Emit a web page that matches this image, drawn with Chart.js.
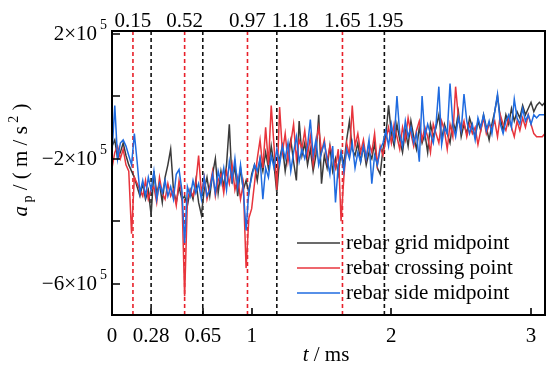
<!DOCTYPE html>
<html lang="en">
<head>
<meta charset="UTF-8" />
<title>Rebar acceleration</title>
<script src="https://cdn.jsdelivr.net/npm/chart.js"></script>
<style>
  html, body { margin: 0; padding: 0; background: #fff; }
  #wrap { width: 547px; height: 367px; }
</style>
</head>
<body>
<div id="wrap"><canvas id="accChart"></canvas></div>
<script>
// time step of the records in ms, values in 10^5 m/s^2
const timeStep = 0.02;

const gridMidpoint = [
  -1.6, -1.4, -2.0, -1.8, -1.5, -1.9, -2.2, -2.4, -2.6, -2.9,
  -3.2, -2.8, -3.3, -3.0, -3.8, -2.4, -3.1, -2.8, -3.4, -2.6,
  -2.2, -1.7, -3.0, -3.4, -2.9, -3.3, -3.2, -3.5, -3.0, -3.3,
  -2.7, -3.4, -3.8, -3.0, -2.6, -3.2, -2.5, -2.0, -3.1, -2.4,
  -2.9, -2.2, -0.9, -2.8, -2.2, -3.2, -2.3, -3.0, -2.7, -3.1,
  -2.5, -2.2, -2.7, -2.0, -2.4, -1.8, -2.3, -1.6, -2.2, -3.1,
  -2.0, -1.6, -2.4, -1.8, -1.4, -2.1, -2.7, -0.8, -1.9, -1.5,
  -2.2, -1.7, -2.4, -1.9, -0.6, -2.8, -1.9, -2.3, -1.6, -2.4,
  -2.0, -2.5, -1.8, -2.2, -1.4, -0.8, -1.7, -1.9, -1.5, -2.1,
  -1.6, -2.2, -1.8, -2.0, -1.5, -2.3, -2.5, -1.7, -1.3, -0.3,
  -1.2, -1.6, -0.9, -1.4, -1.8, -1.1, -1.6, -0.8, -1.3, -1.7,
  -1.0, -1.5, -1.2, -1.8, -0.9, -1.3, -1.0, -0.6, -1.4, -0.9,
  -1.2, -1.5, -0.8, -1.1, -0.5, -1.3, -0.9, -1.2, -0.7, -1.0,
  -1.3, -0.8, -1.1, -0.6, -1.0, -1.4, -0.9, -0.5, 0.0, -0.7,
  -1.1, -0.6, -0.9, -0.4, -0.8, -0.5, -0.7, -0.3, -0.6, -0.4,
  -0.2, -0.5, -0.3, -0.2, -0.3, -0.2
];

const crossingPoint = [
  -2.3, -1.8, -1.6, -2.0, -1.7, -2.2, -2.4, -4.4, -2.6, -2.8,
  -3.0, -3.2, -2.7, -3.3, -3.0, -2.9, -3.4, -2.6, -3.1, -3.3,
  -2.8, -3.2, -3.0, -3.5, -2.7, -3.1, -6.4, -3.3, -3.0, -3.2,
  -2.8, -1.9, -3.1, -2.6, -3.3, -2.9, -2.4, -3.2, -2.7, -2.5,
  -3.1, -2.4, -2.8, -2.2, -3.0, -2.6, -3.3, -2.8, -5.5, -3.9,
  -3.6, -2.8, -2.0, -1.4, -2.3, -1.0, -2.2, -0.3, -1.6, -3.0,
  -0.35, -1.8, -1.2, -2.1, -1.5, -0.9, -2.0, -1.4, -1.7, -1.1,
  -1.9, -1.3, -2.2, -1.5, -1.0, -1.8, -1.4, -2.1, -1.6, -1.9,
  -2.3, -1.7, -4.0, -2.6, -1.5, -1.9, -0.3, -1.6, -1.2, -1.8,
  -1.4, -2.0, -1.5, -1.8, -1.2, -2.2, -1.6, -1.9, -1.4, -1.0,
  -1.5, -0.9, -1.3, -1.7, -1.0, -1.4, -0.7, -1.2, -1.6, -1.1,
  -0.8, -1.4, -1.0, -1.3, -1.8, -0.9, -1.2, -1.5, -0.8, -1.1,
  -1.7, -0.9, -1.3, 0.3, -0.7, -1.1, -0.8, -1.3, -0.9, -1.2,
  -1.0, -1.55, -1.1, -0.7, -1.2, -0.9, -1.0, -0.8, -1.3, -0.6,
  -0.9, -1.1, -0.7, -1.0, -1.3, -0.8, -1.1, -0.7, -1.0, -0.6,
  -0.9, -1.2, -1.3, -1.3, -1.3, -1.2
];

const sideMidpoint = [
  -1.8, -0.3, -2.0, -1.5, -1.4, -1.6, -1.9, -2.2, -1.2, -2.1,
  -3.1, -2.7, -3.2, -2.6, -3.0, -2.4, -3.3, -2.8, -3.1, -2.7,
  -3.2, -2.9, -3.3, -2.5, -2.35, -3.0, -4.7, -2.9, -3.2, -2.7,
  -3.1, -2.8, -3.3, -2.6, -3.2, -3.0, -2.5, -3.1, -2.4, -2.8,
  -2.3, -3.0, -2.1, -2.7, -2.0, -2.9, -2.2, -3.0, -4.3, -3.0,
  -2.6, -2.2, -2.4, -2.0, -3.3, -2.3, -2.6, -1.9, -2.3, -1.7,
  -2.2, -1.6, -2.0, -1.5, -2.4, -1.8, -1.3, -2.1, -1.7, -2.0,
  -1.6, -0.75, -1.9, -1.4, -2.2, -1.8, -1.5, -2.0, -2.5, -1.6,
  -3.4, -2.2, -1.8, -2.4, -1.7, -2.0, -1.5, -2.3, -1.8, -2.1,
  -1.6, -2.0, -1.4, -2.8, -1.9, -2.2, -1.7, -1.5, -1.1, -1.6,
  -0.9, -1.4, 0.0, -1.2, -1.6, -0.8, -1.3, -1.0, -1.5, -1.2,
  -2.1, 0.0, -1.3, -0.9, -1.2, -1.5, -0.9, 0.3, -1.55, -1.0,
  -1.2, 0.4, -0.9, -1.3, -0.7, -1.1, 0.06, -0.8, -1.2, -0.9,
  -1.4, -0.7, -1.0, -0.6, -1.1, -0.8, -1.2, -0.5, 0.06, -0.9,
  -1.2, -0.8, -0.6, -1.0, -0.1, -0.7, -0.9, -0.4, -0.8, -0.6,
  -0.9, -0.6, -0.7, -0.6, -0.6, -0.6
];

const seriesNames = ['rebar grid midpoint', 'rebar crossing point', 'rebar side midpoint'];
const seriesColors = ['#3a3a3a', '#e8343c', '#1f6be0'];

const redMarks = [0.15, 0.52, 0.97, 1.65];
const blackMarks = [0.28, 0.65, 1.18, 1.95];
const bottomTicks = [0, 0.28, 0.65, 1, 2, 3];
const topTicks = [0.15, 0.52, 0.97, 1.18, 1.65, 1.95];
const yTicks = [2, 0, -2, -4, -6];
const yTickLabels = [2, -2, -6];

const xMin = 0, xMax = 3.1;
const yMin = -7.0, yMax = 2.08;

const serif = '"Liberation Serif", "Times New Roman", serif';

function toPoints(values) {
  return values.map((v, i) => ({ x: i * timeStep, y: v }));
}

function markLine(t, color) {
  return {
    data: [{ x: t, y: yMin }, { x: t, y: yMax }],
    borderColor: color,
    borderWidth: 1.6,
    borderDash: [4, 3],
    pointRadius: 0,
    order: 5
  };
}

// draws text made of pieces (italic, sub/superscript), centered on cx
function drawRuns(ctx, runs, cx, baseY) {
  let total = 0;
  runs.forEach(r => { ctx.font = r.font; r.w = ctx.measureText(r.text).width; total += r.w; });
  let x = cx - total / 2;
  ctx.textAlign = 'left';
  ctx.textBaseline = 'alphabetic';
  runs.forEach(r => {
    ctx.font = r.font;
    ctx.fillText(r.text, x, baseY + (r.dy || 0));
    x += r.w;
  });
}

const decorations = {
  id: 'decorations',
  afterDraw(chart) {
    const { ctx, chartArea: a, scales: { x, y } } = chart;
    ctx.save();

    // frame
    ctx.strokeStyle = '#000';
    ctx.lineWidth = 2;
    ctx.strokeRect(a.left, a.top, a.right - a.left, a.bottom - a.top);

    // inward ticks
    ctx.beginPath();
    yTicks.forEach(v => {
      const py = Math.round(y.getPixelForValue(v));
      ctx.moveTo(a.left, py);
      ctx.lineTo(a.left + 8, py);
    });
    bottomTicks.forEach(v => {
      const px = Math.round(x.getPixelForValue(v));
      ctx.moveTo(px, a.bottom);
      ctx.lineTo(px, a.bottom - 7);
    });
    ctx.lineWidth = 1.6;
    ctx.stroke();

    ctx.fillStyle = '#000';

    // top labels for the marked times, pushed apart when they collide
    ctx.font = '21px ' + serif;
    ctx.textAlign = 'center';
    ctx.textBaseline = 'alphabetic';
    let prevRight = -Infinity;
    topTicks.forEach(v => {
      const s = v.toFixed(2);
      const w = ctx.measureText(s).width;
      let px = x.getPixelForValue(v);
      if (px - w / 2 < prevRight + 6) px = prevRight + 6 + w / 2;
      ctx.fillText(s, px, 27);
      prevRight = px + w / 2;
    });

    // y tick labels with power of ten
    yTickLabels.forEach(v => {
      const py = y.getPixelForValue(v);
      ctx.textBaseline = 'middle';
      ctx.textAlign = 'right';
      ctx.font = '21px ' + serif;
      ctx.fillText((v < 0 ? '\u2212' : '') + Math.abs(v) + '\u00d710', 97, py + 1);
      ctx.textAlign = 'left';
      ctx.font = '14px ' + serif;
      ctx.fillText('5', 100, py - 8);
    });

    // legend
    chart.data.datasets.slice(0, 3).forEach((ds, i) => {
      const ly = 243 + i * 25;
      ctx.beginPath();
      ctx.moveTo(297, ly);
      ctx.lineTo(340, ly);
      ctx.strokeStyle = ds.borderColor;
      ctx.lineWidth = 1.6;
      ctx.stroke();
      ctx.fillStyle = '#000';
      ctx.font = '21px ' + serif;
      ctx.textAlign = 'left';
      ctx.textBaseline = 'middle';
      ctx.fillText(ds.label, 346, ly);
    });

    // axis titles
    ctx.fillStyle = '#000';
    drawRuns(ctx, [
      { text: 't', font: 'italic 21px ' + serif },
      { text: ' / ms', font: '21px ' + serif }
    ], 326, 361);

    ctx.translate(27, 160);
    ctx.rotate(-Math.PI / 2);
    drawRuns(ctx, [
      { text: 'a', font: 'italic 21px ' + serif },
      { text: ' p', font: '14px ' + serif, dy: 5 },
      { text: ' / ( m / s', font: '21px ' + serif },
      { text: ' 2', font: '14px ' + serif, dy: -9 },
      { text: ' )', font: '21px ' + serif }
    ], 0, 0);

    ctx.restore();
  }
};

const datasets = [
  { label: seriesNames[0], data: toPoints(gridMidpoint), borderColor: seriesColors[0], order: 2 },
  { label: seriesNames[1], data: toPoints(crossingPoint), borderColor: seriesColors[1], order: 1 },
  { label: seriesNames[2], data: toPoints(sideMidpoint), borderColor: seriesColors[2], order: 0 }
].map(ds => Object.assign(ds, { borderWidth: 1.5, pointRadius: 0, tension: 0 }));

redMarks.forEach(t => datasets.push(markLine(t, '#e8202a')));
blackMarks.forEach(t => datasets.push(markLine(t, '#111111')));

new Chart(document.getElementById('accChart'), {
  type: 'line',
  data: { datasets: datasets },
  options: {
    responsive: true,
    maintainAspectRatio: false,
    animation: false,
    layout: { padding: { left: 0, right: 2, top: 31, bottom: 0 } },
    plugins: { legend: { display: false }, tooltip: { enabled: false } },
    scales: {
      x: {
        type: 'linear',
        position: 'bottom',
        min: xMin,
        max: xMax,
        grid: { display: false, drawTicks: false },
        border: { display: false },
        afterBuildTicks: s => { s.ticks = bottomTicks.map(v => ({ value: v })); },
        afterFit: s => { s.height = 52; },
        ticks: { font: { family: serif, size: 21 }, color: '#000', padding: 9, maxRotation: 0,
                 autoSkip: false, callback: v => String(v) }
      },
      y: {
        min: yMin,
        max: yMax,
        grid: { display: false, drawTicks: false },
        border: { display: false },
        afterFit: s => { s.width = 112; },
        ticks: { display: false }
      }
    }
  },
  plugins: [decorations]
});
</script>
</body>
</html>
